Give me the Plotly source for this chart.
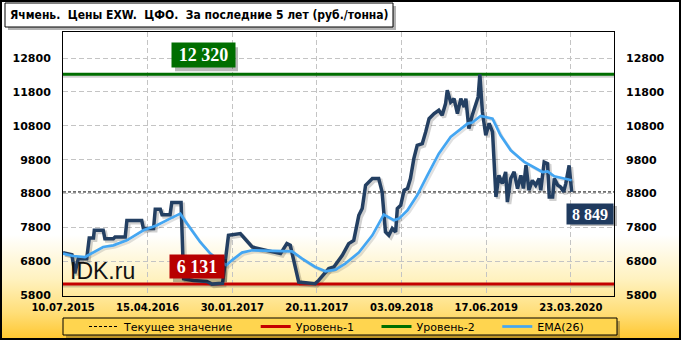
import base64
import plotly.graph_objects as go

# ---------------- data ----------------
tick_dates = ["10.07.2015", "15.04.2016", "30.01.2017", "20.11.2017",
              "03.09.2018", "17.06.2019", "23.03.2020"]
tick_points = [0, 200, 400, 600, 800, 1000, 1200]  # point number of each labelled date

price_pt = [0, 21, 28, 36, 56, 62, 72, 74, 95, 99, 119, 123, 147, 151, 186, 190, 214, 218,
            230, 234, 253, 257, 279, 285, 308, 340, 352, 364, 377, 391, 419, 447, 502, 514,
            529, 537, 557, 596, 604, 628, 640, 660, 675, 687, 699, 707, 715, 723, 731, 746,
            754, 762, 770, 778, 786, 790, 798, 806, 814, 821, 829, 837, 849, 857, 865, 877,
            888, 896, 904, 908, 916, 924, 932, 940, 948, 952, 959, 967, 975, 981, 985, 991,
            999, 1007, 1015, 1023, 1030, 1038, 1046, 1050, 1058, 1066, 1074, 1082, 1088,
            1094, 1101, 1109, 1117, 1125, 1129, 1137, 1145, 1149, 1157, 1161, 1169, 1176,
            1183, 1188, 1196, 1202]
price = [7060, 7000, 6450, 6880, 6880, 7490, 7490, 7720, 7720, 7470, 7470, 7520, 7520, 8010,
         8010, 7770, 7770, 8340, 8340, 8180, 8180, 8535, 8535, 6290, 6240, 6210, 6131, 6131,
         6154, 7570, 7620, 7225, 7077, 7030, 7325, 7275, 6190, 6145, 6240, 6590, 6635, 6980,
         7325, 7420, 8160, 8360, 9045, 9140, 9245, 9245, 8850, 7670, 7570, 7770, 7670, 8360,
         8455, 8900, 8950, 9245, 9830, 10225, 10275, 10620, 11010, 11160, 11260, 11110,
         11455, 11850, 11500, 11600, 11160, 11600, 11355, 11600, 10720, 11110, 11455, 11650,
         12320, 11210, 10520, 10875, 10620, 8700, 9340, 9095, 9440, 8550, 9245, 9440, 8950,
         9340, 8950, 9635, 8900, 9190, 9045, 9245, 8900, 9730, 9685, 8700, 8700, 9245, 9045,
         8995, 8850, 9095, 9635, 8849]

ema_pt = [0, 24, 52, 72, 95, 119, 151, 190, 222, 253, 277, 293, 324, 348, 364, 374, 386, 399,
          423, 447, 486, 525, 541, 565, 596, 620, 644, 667, 699, 731, 758, 782, 794, 814, 837,
          861, 888, 916, 956, 967, 987, 1015, 1034, 1058, 1090, 1133, 1145, 1161, 1184, 1202]
ema = [7030, 6960, 6930, 7077, 7225, 7275, 7423, 7718, 7865, 8063, 8210, 7915, 7373, 7030,
       6883, 6775, 6685, 6833, 7060, 7128, 7107, 7098, 7098, 6883, 6635, 6508, 6558, 6735,
       7060, 7570, 8180, 8013, 8063, 8308, 8750, 9340, 9980, 10470, 10865, 10895, 11090,
       11013, 10520, 10078, 9733, 9437, 9458, 9310, 9243, 9193]

level1 = 6131
level2 = 12320
current = 8849

title_text = "Ячмень.\u00a0 Цены EXW.\u00a0 ЦФО.\u00a0 За последние 5 лет (руб./тонна)"
legend_names = ["Текущее значение", "Уровень-1", "Уровень-2", "EMA(26)"]
watermark = "IDK.ru"

# ---------------- layout geometry ----------------
W, H = 681, 340
ML, MR, MT, MB = 63, 67, 32, 44
PW, PH = W - ML - MR, H - MT - MB
X_RANGE = [0, 1302]
Y_RANGE = [5780, 13567]


def px_x(px):
    return (px - ML) / PW


def px_y(py):
    return (H - MB - py) / PH


dx = 2 * (X_RANGE[1] - X_RANGE[0]) / PW
dy = 2 * (Y_RANGE[1] - Y_RANGE[0]) / PH


def fmt(v):
    return f"{v:,}".replace(",", " ")


NAVY = "#233f62"
BLUE = "#44a6f2"
GREEN = "#006e00"
RED = "#c40000"
SHADOW = "rgba(0,0,0,0.18)"
PAD = "\u00a0" * 5

fig = go.Figure()

# shadows
fig.add_trace(go.Scatter(x=X_RANGE, y=[level1 - dy, level1 - dy], mode="lines",
                         line=dict(color=SHADOW, width=3), showlegend=False, hoverinfo="skip"))
fig.add_trace(go.Scatter(x=X_RANGE, y=[level2 - dy, level2 - dy], mode="lines",
                         line=dict(color=SHADOW, width=3), showlegend=False, hoverinfo="skip"))
fig.add_trace(go.Scatter(x=[p + dx for p in price_pt], y=[v - dy for v in price], mode="lines",
                         line=dict(color=SHADOW, width=4), showlegend=False, hoverinfo="skip"))
fig.add_trace(go.Scatter(x=[p + dx for p in ema_pt], y=[v - dy for v in ema], mode="lines",
                         line=dict(color="rgba(0,0,0,0.12)", width=2.5), showlegend=False,
                         hoverinfo="skip"))

# legend traces
fig.add_trace(go.Scatter(x=X_RANGE, y=[current, current], mode="lines", name=legend_names[0] + PAD,
                         line=dict(color="black", width=1, dash="3px,2px")))
fig.add_trace(go.Scatter(x=X_RANGE, y=[level1, level1], mode="lines", name=legend_names[1] + PAD,
                         line=dict(color=RED, width=3)))
fig.add_trace(go.Scatter(x=X_RANGE, y=[level2, level2], mode="lines", name=legend_names[2] + PAD,
                         line=dict(color=GREEN, width=3)))
fig.add_trace(go.Scatter(x=price_pt, y=price, mode="lines", showlegend=False,
                         line=dict(color=NAVY, width=3.5)))
fig.add_trace(go.Scatter(x=ema_pt, y=ema, mode="lines", name=legend_names[3],
                         line=dict(color=BLUE, width=2.7)))
# right axis carrier
fig.add_trace(go.Scatter(x=[X_RANGE[0]], y=[None], yaxis="y2", showlegend=False, hoverinfo="skip"))

# background gradient
svg = (f"<svg xmlns='http://www.w3.org/2000/svg' width='{W}' height='{H}' viewBox='0 0 {W} {H}' "
       f"preserveAspectRatio='none'><defs><linearGradient id='g' x1='0' y1='0' x2='0' y2='1'>"
       f"<stop offset='0' stop-color='#ffffff'/><stop offset='0.69' stop-color='#ffffff'/>"
       f"<stop offset='0.82' stop-color='#fff2c0'/><stop offset='0.92' stop-color='#ffde78'/>"
       f"<stop offset='1' stop-color='#ffc62c'/></linearGradient></defs>"
       f"<rect width='{W}' height='{H}' fill='url(#g)'/></svg>")
src = "data:image/svg+xml;base64," + base64.b64encode(svg.encode()).decode()

tick_font = dict(family="DejaVu Sans", size=11, color="black", weight="bold")
grid = dict(showgrid=True, gridcolor="#c4c4c4", gridwidth=1, griddash="5px,3px", zeroline=False)

shapes = [
    # title box
    dict(type="rect", xref="paper", yref="paper", x0=px_x(8), x1=px_x(396), y0=px_y(30), y1=px_y(6),
         fillcolor="rgba(0,0,0,0.3)", line=dict(width=0), layer="below"),
    dict(type="rect", xref="paper", yref="paper", x0=px_x(5), x1=px_x(393), y0=px_y(27), y1=px_y(3),
         fillcolor="white", line=dict(color="black", width=1), layer="below"),
    # legend box
    dict(type="rect", xref="paper", yref="paper", x0=px_x(66), x1=px_x(620), y0=px_y(338), y1=px_y(321),
         fillcolor="rgba(0,0,0,0.25)", line=dict(width=0), layer="below"),
    dict(type="rect", xref="paper", yref="paper", x0=px_x(63), x1=px_x(617), y0=px_y(335), y1=px_y(318),
         fillcolor="#ffd54f", line=dict(color="black", width=1), layer="below"),
    # outer border
    dict(type="rect", xref="paper", yref="paper", x0=px_x(1), x1=px_x(680), y0=px_y(339), y1=px_y(1),
         line=dict(color="black", width=2), layer="above"),
]

annotations = []


def label(text, x, y, yanchor, yshift, color, w, h, size, xanchor="center"):
    # drop shadow as a pixel-sized shape anchored at the same point
    if xanchor == "center":
        sx0, sx1 = -w / 2 + 3, w / 2 + 3
    else:
        sx0, sx1 = -w + 3, 3
    if yanchor == "bottom":
        sy0, sy1 = yshift - 3, yshift + h - 3
    else:
        sy0, sy1 = yshift - h - 3, yshift - 3
    shapes.append(dict(type="rect", xref="paper", yref="y", xsizemode="pixel", ysizemode="pixel",
                       xanchor=x, yanchor=y, x0=sx0, x1=sx1, y0=sy0, y1=sy1,
                       fillcolor="rgba(0,0,0,0.28)", line=dict(width=0), layer="above"))
    annotations.append(dict(xref="paper", yref="y", x=x, y=y, xanchor=xanchor, yanchor=yanchor,
                            showarrow=False, width=w, height=h, borderpad=0, align="center",
                            valign="middle", text=text, bgcolor=color, yshift=yshift,
                            font=dict(family="Liberation Serif", size=size, color="white",
                                      weight="bold")))


label(fmt(level2), px_x(203.5), level2, "bottom", 6, GREEN, 63, 24, 18)
label(fmt(level1), px_x(197), level1, "bottom", 5, "#b80000", 54, 23, 18)
label(fmt(current), 1, current, "top", -11, "#1f3a5e", 46, 20, 16, xanchor="right")
annotations.append(dict(xref="paper", yref="paper", x=px_x(68), y=px_y(271), xanchor="left",
                        yanchor="middle", text=watermark, showarrow=False,
                        font=dict(family="Liberation Sans", size=23, color="#111111")))

fig.update_layout(
    width=W, height=H,
    margin=dict(l=ML, r=MR, t=MT, b=MB, pad=0, autoexpand=False),
    paper_bgcolor="white",
    plot_bgcolor="rgba(0,0,0,0)",
    images=[dict(source=src, xref="paper", yref="paper", x=-ML / PW, y=1 + MT / PH,
                 sizex=W / PW, sizey=H / PH, xanchor="left", yanchor="top",
                 sizing="stretch", layer="below")],
    title=dict(text=title_text, x=10 / W, xanchor="left", xref="container",
               y=1 - 15 / H, yanchor="middle", yref="container",
               font=dict(family="DejaVu Sans Condensed, DejaVu Sans", size=12, color="black",
                         weight="bold")),
    xaxis=dict(range=X_RANGE, tickmode="array", tickvals=tick_points, ticktext=tick_dates,
               tickfont=dict(tick_font, size=10), ticks="", ticklabelstandoff=2, showline=True,
               linecolor="black", linewidth=1, mirror=True, automargin=False, **grid),
    yaxis=dict(range=Y_RANGE, tick0=5800, dtick=1000, tickformat="d", tickfont=tick_font,
               ticks="", ticklabelstandoff=9, showline=True, linecolor="black", linewidth=1,
               mirror=True, automargin=False, **grid),
    yaxis2=dict(range=Y_RANGE, tick0=5800, dtick=1000, tickformat="d", tickfont=tick_font,
                ticks="", ticklabelstandoff=11, overlaying="y", side="right", showgrid=False,
                zeroline=False, showline=False, automargin=False),
    showlegend=True,
    legend=dict(orientation="h", x=px_x(84), xanchor="left", y=px_y(326.5), yanchor="middle",
                bgcolor="rgba(0,0,0,0)", borderwidth=0,
                font=dict(family="DejaVu Sans", size=11, color="black")),
    shapes=shapes,
    annotations=annotations,
)

fig.write_html("out.html")
